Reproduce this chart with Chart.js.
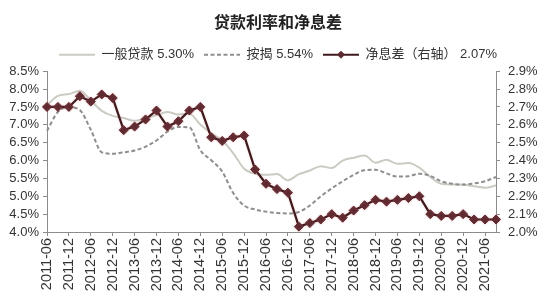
<!DOCTYPE html>
<html>
<head>
<meta charset="utf-8">
<script src="https://cdn.jsdelivr.net/npm/chart.js@4.4.0/dist/chart.umd.min.js"></script>
<style>
  html, body { margin: 0; padding: 0; background: #fff; }
  #wrap { width: 556px; height: 300px; }
</style>
</head>
<body>
<div id="wrap"><canvas id="rateChart"></canvas></div>
<script>
const chartTitle = '贷款利率和净息差';
const quarters = ['2011-06','2011-09','2011-12','2012-03','2012-06','2012-09','2012-12','2013-03','2013-06','2013-09',
  '2013-12','2014-03','2014-06','2014-09','2014-12','2015-03','2015-06','2015-09','2015-12','2016-03',
  '2016-06','2016-09','2016-12','2017-03','2017-06','2017-09','2017-12','2018-03','2018-06','2018-09',
  '2018-12','2019-03','2019-06','2019-09','2019-12','2020-03','2020-06','2020-09','2020-12','2021-03',
  '2021-06','2021-09'];
const seriesNames = ['一般贷款', '按揭', '净息差（右轴）'];
const generalLoan = [7.55,7.81,7.86,7.95,7.68,7.39,7.25,7.19,7.11,7.18,
  7.27,7.36,7.29,7.31,7.01,6.76,6.56,6.21,5.77,5.63,
  5.60,5.62,5.45,5.62,5.72,5.84,5.79,6.00,6.08,6.14,
  5.94,6.02,5.91,5.93,5.80,5.54,5.35,5.33,5.32,5.28,
  5.24,5.30];
const mortgage = [6.83,7.36,7.49,7.41,6.86,6.23,6.19,6.23,6.28,6.39,
  6.56,6.81,6.94,6.93,6.29,6.01,5.69,5.09,4.74,4.63,
  4.57,4.53,4.52,4.56,4.74,5.00,5.22,5.42,5.60,5.73,
  5.74,5.64,5.55,5.56,5.63,5.57,5.42,5.35,5.33,5.36,
  5.42,5.54];
const netMargin = [2.70,2.70,2.70,2.76,2.73,2.77,2.75,2.57,2.59,2.63,
  2.68,2.59,2.62,2.68,2.70,2.53,2.51,2.53,2.54,2.35,
  2.27,2.24,2.22,2.03,2.05,2.07,2.10,2.08,2.12,2.15,
  2.18,2.17,2.18,2.19,2.20,2.10,2.09,2.09,2.10,2.07,
  2.07,2.07];

const axisColor = '#8c8c8c';
const textColor = '#333333';
const fontFamily = '"Liberation Sans", Arial, "Noto Sans CJK SC", sans-serif';
Chart.defaults.font.family = fontFamily;
Chart.defaults.color = textColor;

const lastPct = arr => arr[arr.length - 1].toFixed(2) + '%';

// faint glow under the margin line + diamond in its legend sample
const marginGlow = {
  id: 'marginGlow',
  beforeDatasetDraw(chart, args) {
    if (args.index !== 2) return;
    chart.ctx.save();
    chart.ctx.shadowColor = 'rgba(210,90,90,0.35)';
    chart.ctx.shadowBlur = 2;
  },
  afterDatasetDraw(chart, args) {
    if (args.index !== 2) return;
    chart.ctx.restore();
  },
  afterDraw(chart) {
    const box = chart.legend.legendHitBoxes[2];
    if (!box) return;
    const ctx = chart.ctx;
    ctx.save();
    ctx.fillStyle = '#5e2a31';
    ctx.strokeStyle = '#5e2a31';
    Chart.helpers.drawPoint(ctx, { pointStyle: 'rectRot', radius: 3.5, borderWidth: 1, rotation: 0 },
      box.left + 18, box.top + box.height / 2);
    ctx.restore();
  }
};

new Chart(document.getElementById('rateChart'), {
  type: 'line',
  data: {
    labels: quarters,
    datasets: [{
      label: seriesNames[0],
      data: generalLoan,
      yAxisID: 'y',
      borderColor: '#cbcbc3',
      borderWidth: 2,
      pointRadius: 0,
      cubicInterpolationMode: 'monotone',
      order: 2
    }, {
      label: seriesNames[1],
      data: mortgage,
      yAxisID: 'y',
      borderColor: '#8e8e8e',
      borderWidth: 2,
      borderDash: [4, 2.5],
      pointRadius: 0,
      cubicInterpolationMode: 'monotone',
      order: 1
    }, {
      label: seriesNames[2],
      data: netMargin,
      yAxisID: 'y1',
      borderColor: '#3d1a1e',
      borderWidth: 2.2,
      pointStyle: 'rectRot',
      pointRadius: 4.5,
      pointBackgroundColor: '#5e2a31',
      pointBorderColor: '#5e2a31',
      pointBorderWidth: 1,
      tension: 0,
      order: 0
    }]
  },
  options: {
    responsive: true,
    maintainAspectRatio: false,
    animation: false,
    events: [],
    layout: { padding: { top: 12, left: 0, right: 0, bottom: 0 } },
    plugins: {
      title: {
        display: true,
        text: chartTitle,
        color: '#222',
        font: { size: 16, weight: 'bold', family: '"Noto Sans CJK SC", sans-serif' },
        padding: { top: 0, bottom: 7 }
      },
      legend: {
        display: true,
        labels: {
          usePointStyle: true,
          pointStyleWidth: 36,
          boxHeight: 13,
          padding: 10,
          color: textColor,
          font: { size: 13 },
          generateLabels(chart) {
            return chart.data.datasets.map((ds, i) => ({
              text: ds.label + ' ' + lastPct(ds.data),
              pointStyle: 'line',
              strokeStyle: ds.borderColor,
              fillStyle: ds.borderColor,
              lineWidth: 2,
              lineDash: ds.borderDash || [],
              fontColor: textColor,
              datasetIndex: i,
              hidden: false
            }));
          }
        }
      },
      tooltip: { enabled: false }
    },
    scales: {
      x: {
        type: 'category',
        offset: false,
        grid: { drawOnChartArea: false, tickLength: 4, color: axisColor },
        border: { color: axisColor },
        ticks: {
          autoSkip: false,
          minRotation: 90,
          maxRotation: 90,
          padding: 2,
          color: textColor,
          font: { size: 14.5 },
          callback(v, i) { return i % 2 === 0 ? this.getLabelForValue(v) : null; }
        },
        afterFit(s) { s.height = 68; }
      },
      y: {
        position: 'left',
        min: 4, max: 8.5,
        grid: { drawOnChartArea: false, tickLength: 4, color: axisColor },
        border: { color: axisColor },
        ticks: { stepSize: 0.5, autoSkip: false, padding: 4, color: textColor, font: { size: 13 },
          callback: v => v.toFixed(1) + '%' },
        afterFit(s) { s.width = 47; }
      },
      y1: {
        position: 'right',
        min: 2.0, max: 2.9,
        grid: { drawOnChartArea: false, tickLength: 4, color: axisColor },
        border: { color: axisColor },
        ticks: { stepSize: 0.1, autoSkip: false, padding: 8, color: textColor, font: { size: 13 },
          callback: v => v.toFixed(1) + '%' },
        afterFit(s) { s.width = 60; }
      }
    }
  },
  plugins: [marginGlow]
});
</script>
</body>
</html>
